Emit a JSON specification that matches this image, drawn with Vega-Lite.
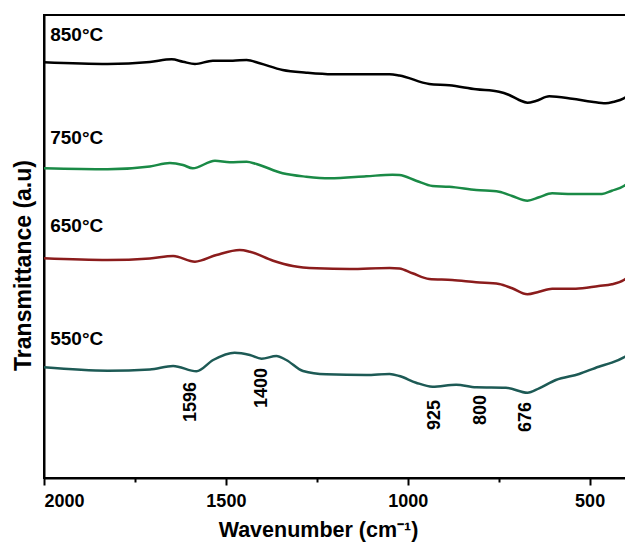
{
  "$schema": "https://vega.github.io/schema/vega-lite/v6.json",
  "width": 582,
  "height": 463,
  "autosize": {"type": "none"},
  "padding": {"left": 44, "top": 15, "right": 0, "bottom": 65},
  "background": "white",
  "config": {
    "view": {"stroke": "black", "strokeWidth": 2},
    "font": "Liberation Sans"
  },
  "datasets": {
    "spectra": [
      {"series": "850°C", "wn": 2000, "t": 415.7}, {"series": "850°C", "wn": 1825, "t": 414}, {"series": "850°C", "wn": 1709, "t": 416}, {"series": "850°C", "wn": 1649, "t": 418.7}, {"series": "850°C", "wn": 1618, "t": 416.3}, {"series": "850°C", "wn": 1585, "t": 414}, {"series": "850°C", "wn": 1536, "t": 417.3}, {"series": "850°C", "wn": 1481, "t": 417.3}, {"series": "850°C", "wn": 1443, "t": 418}, {"series": "850°C", "wn": 1407, "t": 414.7}, {"series": "850°C", "wn": 1344, "t": 408}, {"series": "850°C", "wn": 1279, "t": 405.3}, {"series": "850°C", "wn": 1207, "t": 403.7}, {"series": "850°C", "wn": 1114, "t": 403.7}, {"series": "850°C", "wn": 1050, "t": 403.7}, {"series": "850°C", "wn": 1023, "t": 402.5}, {"series": "850°C", "wn": 941, "t": 394}, {"series": "850°C", "wn": 886, "t": 392.7}, {"series": "850°C", "wn": 812, "t": 388.7}, {"series": "850°C", "wn": 749, "t": 386.3}, {"series": "850°C", "wn": 721, "t": 383}, {"series": "850°C", "wn": 694, "t": 378}, {"series": "850°C", "wn": 671, "t": 375.3}, {"series": "850°C", "wn": 648, "t": 377}, {"series": "850°C", "wn": 611, "t": 381.7}, {"series": "850°C", "wn": 548, "t": 379.3}, {"series": "850°C", "wn": 494, "t": 376.3}, {"series": "850°C", "wn": 456, "t": 374.7}, {"series": "850°C", "wn": 433, "t": 376.3}, {"series": "850°C", "wn": 406, "t": 379.7}, {"series": "850°C", "wn": 400, "t": 381},
      {"series": "750°C", "wn": 2000, "t": 309.7}, {"series": "750°C", "wn": 1825, "t": 308.7}, {"series": "750°C", "wn": 1709, "t": 311.5}, {"series": "750°C", "wn": 1654, "t": 315}, {"series": "750°C", "wn": 1618, "t": 313}, {"series": "750°C", "wn": 1591, "t": 309.7}, {"series": "750°C", "wn": 1530, "t": 317.3}, {"series": "750°C", "wn": 1489, "t": 315.7}, {"series": "750°C", "wn": 1443, "t": 316.3}, {"series": "750°C", "wn": 1416, "t": 314}, {"series": "750°C", "wn": 1344, "t": 304.7}, {"series": "750°C", "wn": 1279, "t": 301.3}, {"series": "750°C", "wn": 1215, "t": 299.7}, {"series": "750°C", "wn": 1114, "t": 301.7}, {"series": "750°C", "wn": 1042, "t": 303.3}, {"series": "750°C", "wn": 1023, "t": 303}, {"series": "750°C", "wn": 977, "t": 297.3}, {"series": "750°C", "wn": 932, "t": 292}, {"series": "750°C", "wn": 886, "t": 291.3}, {"series": "750°C", "wn": 812, "t": 288}, {"series": "750°C", "wn": 749, "t": 286.3}, {"series": "750°C", "wn": 713, "t": 282}, {"series": "750°C", "wn": 671, "t": 277.3}, {"series": "750°C", "wn": 639, "t": 280.7}, {"series": "750°C", "wn": 603, "t": 284.7}, {"series": "750°C", "wn": 548, "t": 284}, {"series": "750°C", "wn": 466, "t": 284}, {"series": "750°C", "wn": 439, "t": 287.3}, {"series": "750°C", "wn": 406, "t": 292}, {"series": "750°C", "wn": 400, "t": 293.5},
      {"series": "650°C", "wn": 2000, "t": 219.7}, {"series": "650°C", "wn": 1825, "t": 218}, {"series": "650°C", "wn": 1709, "t": 219.5}, {"series": "650°C", "wn": 1645, "t": 222}, {"series": "650°C", "wn": 1585, "t": 216.3}, {"series": "650°C", "wn": 1526, "t": 223}, {"series": "650°C", "wn": 1462, "t": 228}, {"series": "650°C", "wn": 1434, "t": 226.3}, {"series": "650°C", "wn": 1370, "t": 217.3}, {"series": "650°C", "wn": 1316, "t": 212}, {"series": "650°C", "wn": 1251, "t": 209.7}, {"series": "650°C", "wn": 1160, "t": 209}, {"series": "650°C", "wn": 1050, "t": 210}, {"series": "650°C", "wn": 1023, "t": 209.5}, {"series": "650°C", "wn": 987, "t": 204.7}, {"series": "650°C", "wn": 941, "t": 199}, {"series": "650°C", "wn": 878, "t": 198}, {"series": "650°C", "wn": 812, "t": 195.7}, {"series": "650°C", "wn": 749, "t": 194}, {"series": "650°C", "wn": 713, "t": 189.7}, {"series": "650°C", "wn": 671, "t": 183.7}, {"series": "650°C", "wn": 639, "t": 186.3}, {"series": "650°C", "wn": 603, "t": 189.3}, {"series": "650°C", "wn": 538, "t": 189.3}, {"series": "650°C", "wn": 475, "t": 192}, {"series": "650°C", "wn": 439, "t": 193.7}, {"series": "650°C", "wn": 406, "t": 198}, {"series": "650°C", "wn": 400, "t": 199.5},
      {"series": "550°C", "wn": 2000, "t": 110.7}, {"series": "550°C", "wn": 1825, "t": 107.3}, {"series": "550°C", "wn": 1709, "t": 108.5}, {"series": "550°C", "wn": 1645, "t": 112}, {"series": "550°C", "wn": 1581, "t": 106.7}, {"series": "550°C", "wn": 1535, "t": 118}, {"series": "550°C", "wn": 1476, "t": 125.3}, {"series": "550°C", "wn": 1434, "t": 123}, {"series": "550°C", "wn": 1402, "t": 119.3}, {"series": "550°C", "wn": 1361, "t": 122}, {"series": "550°C", "wn": 1334, "t": 118}, {"series": "550°C", "wn": 1288, "t": 107}, {"series": "550°C", "wn": 1224, "t": 103.7}, {"series": "550°C", "wn": 1114, "t": 103}, {"series": "550°C", "wn": 1050, "t": 104}, {"series": "550°C", "wn": 1023, "t": 102}, {"series": "550°C", "wn": 977, "t": 95.3}, {"series": "550°C", "wn": 932, "t": 91.3}, {"series": "550°C", "wn": 867, "t": 93.3}, {"series": "550°C", "wn": 812, "t": 90.7}, {"series": "550°C", "wn": 730, "t": 90.3}, {"series": "550°C", "wn": 671, "t": 85.3}, {"series": "550°C", "wn": 639, "t": 89.7}, {"series": "550°C", "wn": 593, "t": 98}, {"series": "550°C", "wn": 529, "t": 104}, {"series": "550°C", "wn": 475, "t": 111.3}, {"series": "550°C", "wn": 439, "t": 115.3}, {"series": "550°C", "wn": 406, "t": 120.7}, {"series": "550°C", "wn": 400, "t": 122}
    ],
    "labels": [
      {"label": "850°C", "wn": 1983, "t": 443},
      {"label": "750°C", "wn": 1983, "t": 340},
      {"label": "650°C", "wn": 1983, "t": 252},
      {"label": "550°C", "wn": 1983, "t": 139}
    ],
    "peaks": [
      {"label": "1596", "wn": 1596, "t": 76},
      {"label": "1400", "wn": 1400, "t": 90},
      {"label": "925", "wn": 925, "t": 63},
      {"label": "800", "wn": 800, "t": 68},
      {"label": "676", "wn": 676, "t": 61}
    ]
  },
  "layer": [
    {
      "data": {"name": "spectra"},
      "mark": {"type": "line", "interpolate": "monotone", "strokeWidth": 2.5},
      "encoding": {
        "x": {
          "field": "wn", "type": "quantitative",
          "scale": {"domain": [2000, 400], "nice": false, "zero": false},
          "axis": {
            "values": [2000, 1750, 1500, 1250, 1000, 750, 500], "format": "d",
            "labelExpr": "datum.value % 500 === 0 ? datum.label : ''",
            "title": "Wavenumber (cm⁻¹)",
            "titleFontSize": 21.5, "titleFontWeight": "bold", "titleColor": "black", "titlePadding": 9,
            "titleX": 274, "titleAnchor": null,
            "labelFontSize": 18, "labelFontWeight": "bold", "labelColor": "black", "labelPadding": 7,
            "tickSize": {"condition": {"test": "datum.value % 500 === 0", "value": 7}, "value": 4},
            "tickWidth": 2, "tickColor": "black",
            "domainColor": "black", "domainWidth": 2, "grid": false, "orient": "bottom"
          }
        },
        "y": {
          "field": "t", "type": "quantitative",
          "scale": {"domain": [0, 463], "nice": false, "zero": false},
          "axis": {
            "title": "Transmittance (a.u)",
            "titleFontSize": 23, "titleFontWeight": "bold", "titleColor": "black",
            "titleX": -21, "titleY": 250, "titleBaseline": "middle", "titleAlign": "center", "titleAngle": 270,
            "labels": false, "ticks": false, "grid": false,
            "domainColor": "black", "domainWidth": 2
          }
        },
        "color": {
          "field": "series", "type": "nominal",
          "scale": {"domain": ["850°C", "750°C", "650°C", "550°C"], "range": ["#000000", "#1a8a46", "#8b1c1c", "#1d5a55"]},
          "legend": null
        },
        "detail": {"field": "series"}
      }
    },
    {
      "data": {"name": "labels"},
      "mark": {"type": "text", "align": "left", "baseline": "middle", "fontSize": 19, "fontWeight": "bold", "color": "black"},
      "encoding": {
        "x": {"field": "wn", "type": "quantitative"},
        "y": {"field": "t", "type": "quantitative"},
        "text": {"field": "label"}
      }
    },
    {
      "data": {"name": "peaks"},
      "mark": {"type": "text", "align": "center", "baseline": "middle", "angle": 270, "fontSize": 18, "fontWeight": "bold", "color": "black"},
      "encoding": {
        "x": {"field": "wn", "type": "quantitative"},
        "y": {"field": "t", "type": "quantitative"},
        "text": {"field": "label"}
      }
    }
  ]
}
